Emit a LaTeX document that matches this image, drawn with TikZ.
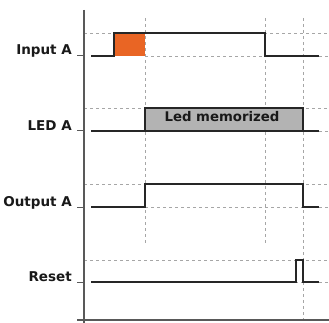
\documentclass[tikz,border=0pt]{standalone}
\usepackage{fontspec}
\setmainfont{DejaVu Sans}
\definecolor{inorange}{RGB}{233,101,36}
\definecolor{ledgrey}{RGB}{179,179,179}
\begin{document}
\begin{tikzpicture}[x=1pt,y=-1pt,
  sig/.style={draw=black!85, line width=1.1pt},
  gridline/.style={draw=black!35, dash pattern=on 3pt off 3pt, line width=0.8pt},
  axisline/.style={draw=black!65, line width=1.5pt},
  tickline/.style={draw=black!65, line width=1pt},
  lbl/.style={anchor=base east, font=\fontsize{13.5}{15}\selectfont\bfseries, text=black!90, inner sep=0pt}]
\useasboundingbox (0,0) rectangle (329,323);
% dashed guides
\foreach \y in {33,108,184,260} \draw[gridline] (84,\y) -- (329,\y);
\foreach \y in {56,131,207,282} \draw[gridline] (145,\y) -- (329,\y);
\draw[gridline] (145,18) -- (145,244);
\draw[gridline] (265,18) -- (265,244);
\draw[gridline] (303,18) -- (303,323);
% axes
\draw[axisline] (84,10) -- (84,323);
\draw[axisline] (77,320) -- (329,320);
\foreach \y in {56,131,207,282} \draw[tickline] (77,\y) -- (84,\y);
% labels
\node[lbl] (inA) at (72,55) {Input A};
\node[lbl] (ledA) at (72,130.5) {LED A};
\node[lbl] (outA) at (72,206) {Output A};
\node[lbl] (rst) at (72,281) {Reset};
% Input A
\fill[inorange] (114,33) rectangle (145,56);
\draw[sig] (91,56) -- (114,56) -- (114,33) -- (265,33) -- (265,56) -- (319,56);
% LED A
\draw[sig] (91,131) -- (145,131);
\draw[sig, fill=ledgrey] (145,108) rectangle (303,131);
\node[anchor=base, font=\fontsize{13.3}{15}\selectfont\bfseries, text=black!90, inner sep=0pt] (memo) at (222,122) {Led memorized};
\draw[sig] (303,131) -- (319,131);
% Output A
\draw[sig] (91,207) -- (145,207) -- (145,184) -- (303,184) -- (303,207) -- (319,207);
% Reset
\draw[sig] (91,282) -- (296,282) -- (296,260) -- (303,260) -- (303,282) -- (319,282);
\end{tikzpicture}
\end{document}
